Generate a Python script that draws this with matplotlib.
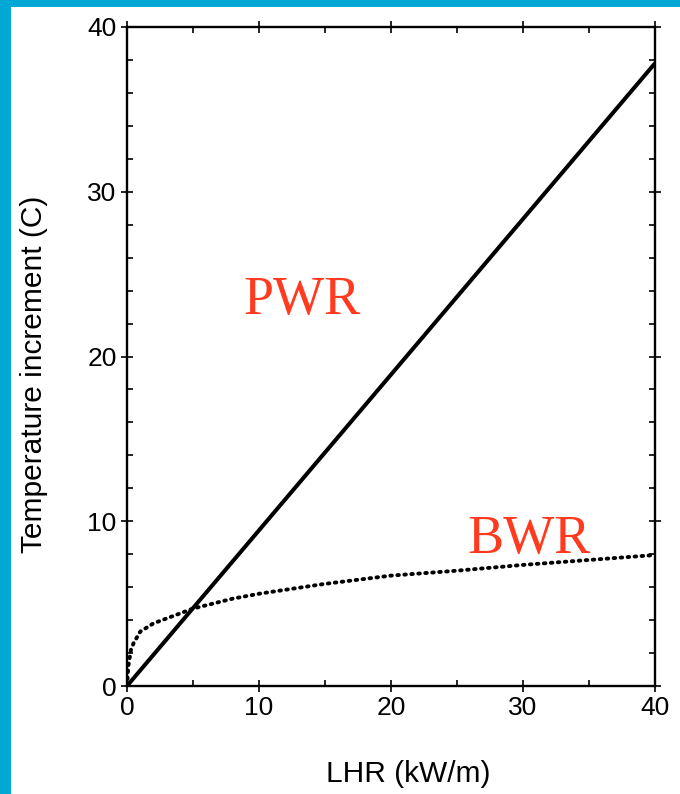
import matplotlib
matplotlib.use("Agg")
import matplotlib.pyplot as plt
from matplotlib.ticker import MultipleLocator
from matplotlib.patches import Rectangle

# Data
pwr_x = [0, 40]
pwr_y = [0, 37.8]
bwr_x = [0, 0.1, 0.3, 0.5, 1, 2, 3, 5, 8, 10, 15, 20, 25, 30, 35, 40]
bwr_y = [0, 1.2, 2.2, 2.6, 3.3, 3.8, 4.1, 4.7, 5.3, 5.6, 6.2, 6.7, 7.0, 7.35, 7.65, 7.95]
x_ticks = [0, 10, 20, 30, 40]
y_ticks = [0, 10, 20, 30, 40]

fig = plt.figure(figsize=(6.8, 7.94), dpi=100)
fig.patch.set_facecolor("white")
# cyan frame on left and top
fig.patches.append(Rectangle((0, 0), 11/680, 1, transform=fig.transFigure,
                             facecolor="#00A8D6", edgecolor="none", zorder=0))
fig.patches.append(Rectangle((0, 1 - 7/794), 1, 7/794, transform=fig.transFigure,
                             facecolor="#00A8D6", edgecolor="none", zorder=0))

ax = fig.add_axes([127/680, 108/794, 528/680, 659/794])
ax.plot(pwr_x, pwr_y, color="black", lw=2.9, solid_capstyle="butt")
ax.plot(bwr_x, bwr_y, color="black", lw=2.8, linestyle=(0, (0.4, 1.4)),
        dash_capstyle="round")

ax.set_xlim(0, 40)
ax.set_ylim(0, 40)
ax.set_xticks(x_ticks)
ax.set_yticks(y_ticks)
ax.xaxis.set_minor_locator(MultipleLocator(5))
ax.yaxis.set_minor_locator(MultipleLocator(2))

font = "Liberation Sans"
ax.tick_params(which="major", direction="inout", length=9, width=1.2,
               top=True, right=True, labelsize=19, pad=3)
ax.tick_params(which="minor", direction="in", length=4.5, width=1.2,
               top=True, right=True)
for lab in ax.get_xticklabels() + ax.get_yticklabels():
    lab.set_fontfamily(font)
for s in ax.spines.values():
    s.set_linewidth(1.7)

fig.text(408/680, 1 - 774/794, "LHR (kW/m)", fontfamily=font, fontsize=21.5,
         ha="center", va="center")
fig.text(34/680, 1 - 374/794, "Temperature increment (C)", fontfamily=font,
         fontsize=21.5, ha="center", va="center", rotation=90)

ax.text(13.3, 23.4, "PWR", color="#FF3A1E", fontfamily="Liberation Serif",
        fontsize=39, ha="center", va="center")
ax.text(30.5, 8.9, "BWR", color="#FF3A1E", fontfamily="Liberation Serif",
        fontsize=39, ha="center", va="center")

fig.savefig("out.png", dpi=100)
